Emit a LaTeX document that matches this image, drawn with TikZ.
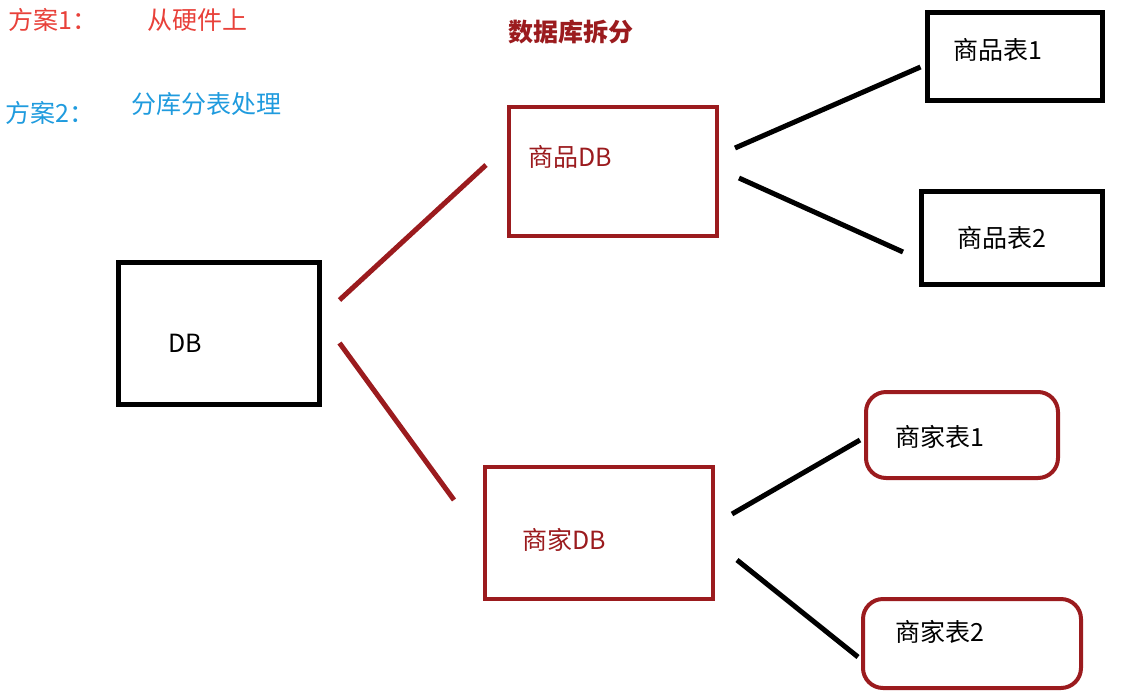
\documentclass[tikz,border=0pt]{standalone}
\usepackage{fontspec}
\setmainfont{Noto Sans CJK SC}
\usetikzlibrary{calc}
\definecolor{dbred}{HTML}{9B1B1E}
\definecolor{planred}{HTML}{E8413A}
\definecolor{planblue}{HTML}{1F9BDE}

\begin{document}
\begin{tikzpicture}[x=1pt,y=-1pt,font=\fontsize{25}{29}\selectfont,
  blk/.style={draw=black,line width=5pt,inner sep=0pt},
  redbox/.style={draw=dbred,line width=4pt,inner sep=0pt},
  rndbox/.style={draw=dbred,line width=4pt,inner sep=0pt,rounded corners=20pt},
  lbl/.style={anchor=west,inner sep=0pt},
  redline/.style={dbred,line width=5pt},
  blkline/.style={black,line width=5pt}]
\useasboundingbox (0,0) rectangle (1128,697);
% plan notes
\node[lbl,planred] (p1) at (8,20) {方案1：};
\node[lbl,planred] (p1t) at (147,20) {从硬件上};
\node[lbl,planblue] (p2) at (5,113) {方案2：};
\node[lbl,planblue] (p2t) at (131,104) {分库分表处理};
\node[lbl,dbred,font=\fontsize{25}{29}\selectfont\bfseries] (split) at (508,32) {数据库拆分};
% boxes
\foreach \n/\x/\y/\w/\h/\s in {db/219/333.5/201/142/blk,pdb/613/171.5/208/129/redbox,
  mdb/599/533/228/132/redbox,pt1/1014.5/56/175/88/blk,pt2/1011.5/237.5/181/93/blk,
  mt1/962/435/192/86/rndbox,mt2/972/643.5/218/89/rndbox}
  {\node[\s,minimum width=\w,minimum height=\h] (\n) at (\x,\y) {};}
\node[lbl] (dbl) at (168,343) {DB};
\node[lbl,dbred] (pdbl) at (528,157) {商品DB};
\node[lbl,dbred] (mdbl) at (522,540) {商家DB};
\node[lbl] (pt1l) at (953,50) {商品表1};
\node[lbl] (pt2l) at (957,238) {商品表2};
\node[lbl] (mt1l) at (895,437) {商家表1};
\node[lbl] (mt2l) at (895,632) {商家表2};
% split lines
\draw[redline] ($(db.east)+(17.5,-33.5)$) -- ($(pdb.west)+(-21,-6.5)$);
\draw[redline] ($(db.east)+(17.5,9.5)$) -- ($(mdb.west)+(-29,-33)$);
\draw[blkline] ($(pdb.east)+(16,-23.5)$) -- ($(pt1.west)+(-4,11)$);
\draw[blkline] ($(pdb.east)+(20,6.5)$) -- ($(pt2.west)+(-15.5,14.5)$);
\draw[blkline] ($(mdb.east)+(17,-19)$) -- ($(mt1.west)+(-4,5)$);
\draw[blkline] ($(mdb.east)+(22,27)$) -- ($(mt2.west)+(-3,13.5)$);
\end{tikzpicture}
\end{document}
